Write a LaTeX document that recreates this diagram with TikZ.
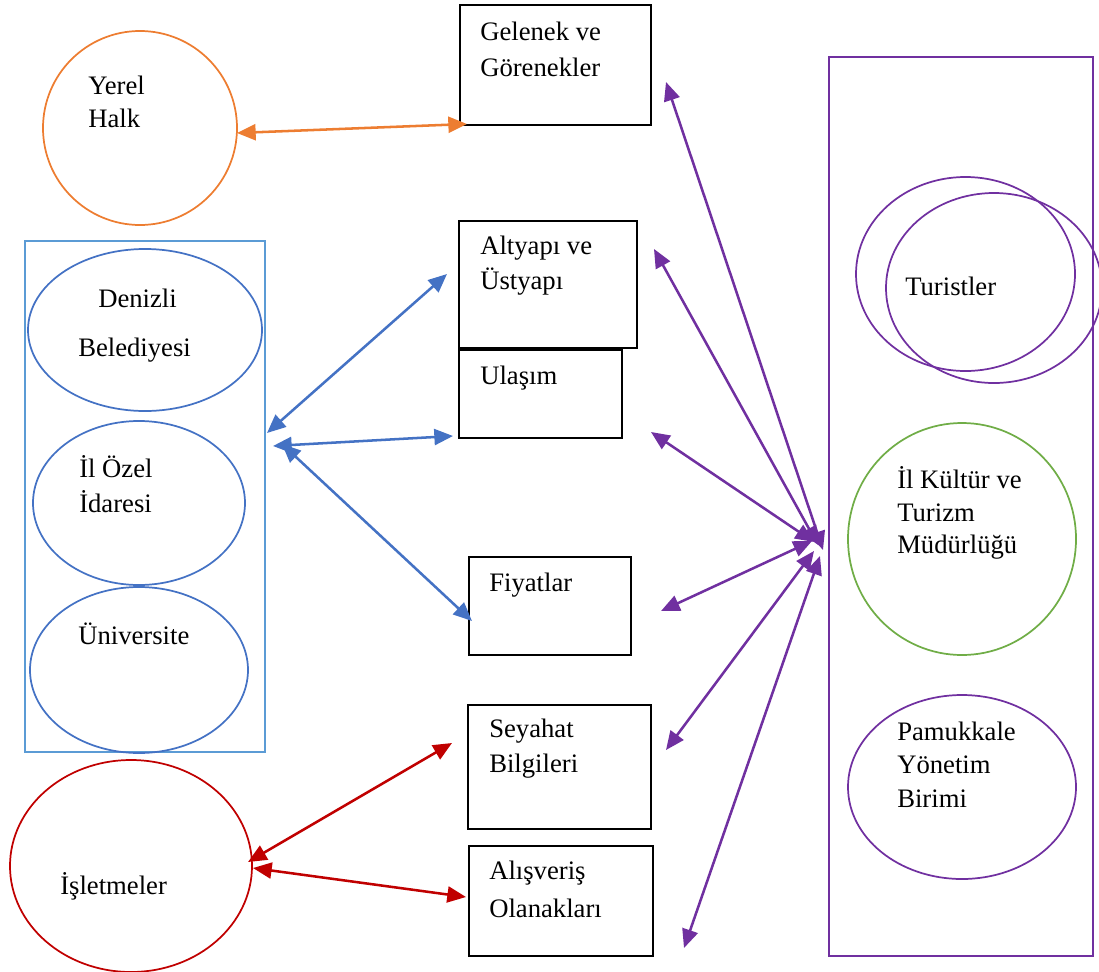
\documentclass[tikz,border=0pt]{standalone}
\usepackage{fontspec}
\setmainfont{Liberation Serif}
\usetikzlibrary{arrows.meta}
\definecolor{cOrange}{HTML}{ED7D31}
\definecolor{cBlue}{HTML}{4472C4}
\definecolor{cLightBlue}{HTML}{5B9BD5}
\definecolor{cPurple}{HTML}{7030A0}
\definecolor{cGreen}{HTML}{70AD47}
\definecolor{cRed}{HTML}{C00000}
\tikzset{
  x=0.75pt, y=-0.75pt,
  box/.style={draw=black, line width=1pt, inner sep=0pt},
  lbl/.style={anchor=west, inner sep=0pt, font=\fontsize{20}{25.5}\selectfont, text=black},
  ell/.style={draw, line width=1.3pt, inner sep=0pt},
  link/.style={line width=1.9pt, {Triangle[length=14pt,width=12pt]}-{Triangle[length=14pt,width=12pt]}},
}
\begin{document}
\begin{tikzpicture}
\useasboundingbox (0,0) rectangle (1099,971);
% boxes
\draw[box] (460,5) rectangle (651,125);
\draw[box] (459,221) rectangle (637,348);
\draw[box] (459,350) rectangle (622,438);
\draw[box] (469,557) rectangle (631,655);
\draw[box] (468,705) rectangle (651,829);
\draw[box] (469,846) rectangle (653,956);
% box labels
\node[lbl] (tGel1) at (480,31) {Gelenek ve};
\node[lbl] (tGel2) at (480,67) {Görenekler};
\node[lbl] (tAlt1) at (480,248) {Altyapı ve};
\node[lbl] (tAlt2) at (480,282) {Üstyapı};
\node[lbl] (tUla) at (480,378) {Ulaşım};
\node[lbl] (tFiy) at (489,585) {Fiyatlar};
\node[lbl] (tSey1) at (489,731) {Seyahat};
\node[lbl] (tSey2) at (489,766) {Bilgileri};
\node[lbl] (tAli1) at (489,873) {Alışveriş};
\node[lbl] (tAli2) at (489,908) {Olanakları};
% Yerel Halk
\draw[ell, draw=cOrange] (140,128) ellipse [x radius=97, y radius=97];
\node[lbl] (tYer1) at (88,85) {Yerel};
\node[lbl] (tYer2) at (88,118) {Halk};
% blue group
\draw[draw=cLightBlue, line width=1.3pt] (25,241) rectangle (265,752);
\draw[ell, draw=cBlue] (145,330) ellipse [x radius=117, y radius=81];
\draw[ell, draw=cBlue] (139,503) ellipse [x radius=106, y radius=82];
\draw[ell, draw=cBlue] (139,670) ellipse [x radius=109, y radius=83];
\node[lbl] (tDen1) at (98,298) {Denizli};
\node[lbl] (tDen2) at (78,350) {Belediyesi};
\node[lbl] (tOz1) at (79,467) {İl Özel};
\node[lbl] (tOz2) at (79,502) {İdaresi};
\node[lbl] (tUni) at (78,634) {Üniversite};
% purple group
\draw[draw=cPurple, line width=1.3pt] (829,57) rectangle (1093,956);
\begin{scope}
\clip (0,0) rectangle (1099,971);
\draw[ell, draw=cPurple] (965.5,274) ellipse [x radius=109.5, y radius=97];
\draw[ell, draw=cPurple] (994,288) ellipse [x radius=108, y radius=95];
\end{scope}
\node[lbl] (tTur) at (905,286) {Turistler};
\draw[ell, draw=cGreen] (962,539) ellipse [x radius=114, y radius=116];
\node[lbl] (tKul1) at (897,478) {İl Kültür ve};
\node[lbl] (tKul2) at (897,513) {Turizm};
\node[lbl] (tKul3) at (897,547) {Müdürlüğü};
\draw[ell, draw=cPurple] (962,787) ellipse [x radius=114, y radius=92];
\node[lbl] (tPam1) at (897,731) {Pamukkale};
\node[lbl] (tPam2) at (897,765) {Yönetim};
\node[lbl] (tPam3) at (897,799) {Birimi};
% Isletmeler
\begin{scope}
\clip (0,0) rectangle (1099,971);
\draw[ell, draw=cRed] (131,866) ellipse [x radius=121, y radius=106];
\end{scope}
\node[lbl] (tIsl) at (60,886) {İşletmeler};
% connector end points
\coordinate (oA) at (237,133);
\coordinate (oB) at (467,124);
\coordinate (bA1) at (267,433);
\coordinate (bB1) at (447,274);
\coordinate (bA2) at (273,446);
\coordinate (bB2) at (453,436);
\coordinate (bA3) at (282,444);
\coordinate (bB3) at (472,621);
\coordinate (pGel) at (666,82);
\coordinate (pAlt) at (654,249);
\coordinate (pUla) at (651,432);
\coordinate (pFiy) at (661,611);
\coordinate (pSey) at (666,750);
\coordinate (pAli) at (684,948);
\coordinate (hGel) at (823,550);
\coordinate (hAlt) at (818,545);
\coordinate (hUla) at (814,542);
\coordinate (hFiy) at (812,541);
\coordinate (hSey) at (814,551);
\coordinate (hAli) at (820,556);
\coordinate (rA1) at (248,862);
\coordinate (rB1) at (452,743);
\coordinate (rA2) at (253,868);
\coordinate (rB2) at (466,897);
% connectors
\draw[link, cOrange] (oA) -- (oB);
\draw[link, cBlue] (bA1) -- (bB1);
\draw[link, cBlue] (bA2) -- (bB2);
\draw[link, cBlue] (bA3) -- (bB3);
\draw[link, cPurple] (hGel) -- (pGel);
\draw[link, cPurple] (hAlt) -- (pAlt);
\draw[link, cPurple] (hUla) -- (pUla);
\draw[link, cPurple] (hFiy) -- (pFiy);
\draw[link, cPurple] (hSey) -- (pSey);
\draw[link, cPurple] (hAli) -- (pAli);
\draw[link, cRed] (rA1) -- (rB1);
\draw[link, cRed] (rA2) -- (rB2);
\end{tikzpicture}
\end{document}
